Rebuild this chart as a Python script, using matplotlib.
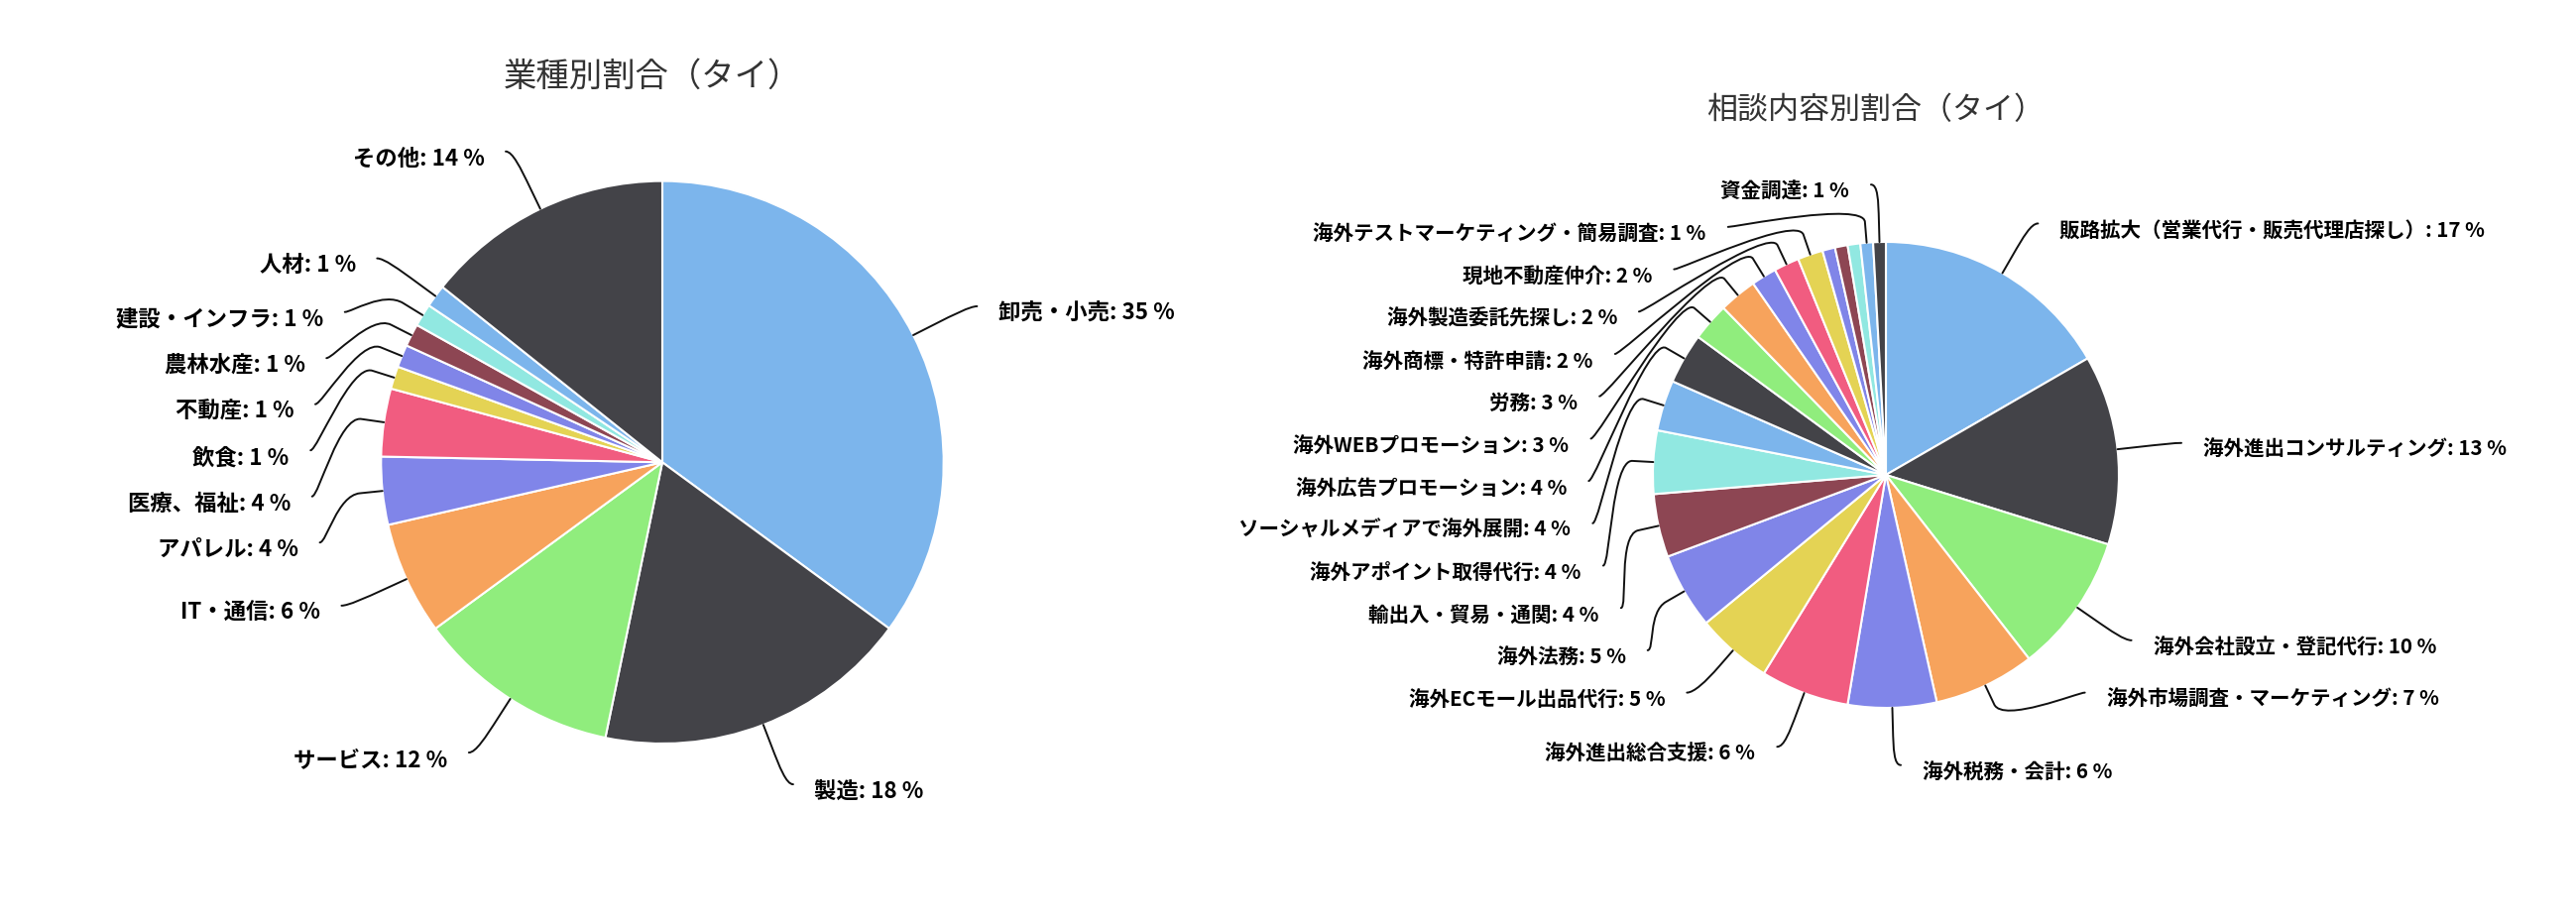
import matplotlib

matplotlib.use("Agg")  # no display in the sandbox
import matplotlib.pyplot as plt
from matplotlib.path import Path
from matplotlib.patches import PathPatch
import numpy as np

plt.rcParams["font.family"] = ["Noto Sans CJK JP", "DejaVu Sans"]

# default Highcharts colours, cycled over the slices
PALETTE = ["#7cb5ec", "#434348", "#90ed7d", "#f7a35c", "#8085e9",
           "#f15c80", "#e4d354", "#8085e8", "#8d4653", "#91e8e1"]

# left chart: share by industry (counts)
industry_title = "業種別割合（タイ）"
industry_names = ["卸売・小売", "製造", "サービス", "IT・通信", "アパレル", "医療、福祉",
                  "飲食", "不動産", "農林水産", "建設・インフラ", "人材", "その他"]
industry_counts = [27, 14, 9, 5, 3, 3, 1, 1, 1, 1, 1, 11]

# right chart: share by consultation topic (counts)
# three tiny slices have no visible label in the original
consult_title = "相談内容別割合（タイ）"
consult_names = ["販路拡大（営業代行・販売代理店探し）", "海外進出コンサルティング",
                 "海外会社設立・登記代行", "海外市場調査・マーケティング", "海外税務・会計",
                 "海外進出総合支援", "海外ECモール出品代行", "海外法務", "輸出入・貿易・通関",
                 "海外アポイント取得代行", "ソーシャルメディアで海外展開", "海外広告プロモーション",
                 "海外WEBプロモーション", "労務", "海外商標・特許申請", "海外製造委託先探し",
                 "現地不動産仲介", "", "", "", "海外テストマーケティング・簡易調査", "資金調達"]
consult_counts = [19, 15, 11, 8, 7, 7, 6, 6, 5, 5, 4, 4, 3, 3, 2, 2, 2, 1, 1, 1, 1, 1]

W, H = 2598, 932

# layout in output pixels (y grows downwards)
left_layout = dict(center=(668, 466.3), radius=283.7, distance=64.3, slot=46.5,
                   plot_top=128.7, plot_bottom=900, knee=23, line_gap=7, text_gap=28.5,
                   text_dy=7.5, font=16.1, title_xy=(658, 77), title_size=24)
right_layout = dict(center=(1902, 479), radius=235, distance=57.8, slot=42.7,
                    plot_top=150, plot_bottom=900, knee=21, line_gap=7, text_gap=29,
                    text_dy=7, font=14.8, title_xy=(1892, 112), title_size=22.3)


def place_half(points, left, lay):
    """Slot based label anti-collision, one side of the pie."""
    cx, cy = lay["center"]
    R = lay["radius"] + lay["distance"]
    top = max(lay["plot_top"], cy - R)
    bottom = min(lay["plot_bottom"], cy + R)
    slots = []
    pos = top
    while pos <= bottom:
        slots.append(pos)
        pos += lay["slot"]
    ns = len(slots)

    # top of the pie first
    points = sorted(points, key=lambda p: -p["angle"] if left else p["angle"])
    if len(points) > ns:
        ranked = sorted(points, key=lambda p: -p["value"])
        keep = {id(p) for p in ranked[:ns]}
        points = [p for p in points if id(p) in keep]
    n = len(points)

    free = list(slots)
    used = []
    for j, p in enumerate(points):
        k = min((abs(s - p["ny"]), i) for i, s in enumerate(free) if s is not None)[1]
        if k < j and free[j] is not None:
            k = j
        elif ns < n - j + k and free[j] is not None:
            k = ns - n + j
            while free[k] is None:
                k += 1
        else:
            while free[k] is None:
                k += 1
        used.append((k, free[k]))
        free[k] = None
    used.sort(key=lambda t: t[1])

    placed = []
    for p, (k, y) in zip(points, used):
        ny = p["ny"]
        below_free = k + 1 >= ns or free[k + 1] is not None
        above_free = k - 1 < 0 or free[k - 1] is not None
        if (ny > y and below_free) or (ny < y and above_free):
            y = ny
        yy = ny if abs(y - (cy - R)) < 1e-6 or abs(y - (cy + R)) < 1e-6 else y
        s = np.clip((yy - cy) / R, -1, 1)
        x = cx + (-1 if left else 1) * np.cos(np.arcsin(s)) * R
        placed.append((p, x, y))
    return placed


def draw_pie(ax, title, names, counts, lay):
    cx, cy = lay["center"]
    r = lay["radius"]
    R = r + lay["distance"]
    colors = [PALETTE[i % len(PALETTE)] for i in range(len(counts))]
    wedges, _ = ax.pie(counts, colors=colors, startangle=-90, counterclock=True,
                       center=(cx, cy), radius=r,
                       wedgeprops=dict(edgecolor="white", linewidth=1.5))
    total = float(sum(counts))

    points = []
    for w, name, c in zip(wedges, names, counts):
        mid = (w.theta1 + w.theta2) / 2
        a = np.deg2rad(mid)
        points.append(dict(name=name, value=c, pct=100 * c / total, angle=mid,
                           ca=np.cos(a), sa=np.sin(a), ny=cy + R * np.sin(a)))

    for left in (True, False):
        half = [p for p in points if (p["angle"] > 90) == left]
        for p, x, y in place_half(half, left, lay):
            if not p["name"]:
                continue
            sign = -1 if left else 1
            kx = cx + (r + lay["knee"]) * p["ca"]
            ky = cy + (r + lay["knee"]) * p["sa"]
            ex = cx + r * p["ca"]
            ey = cy + r * p["sa"]
            verts = [(x + sign * lay["line_gap"], y), (x, y),
                     (2 * kx - ex, 2 * ky - ey), (kx, ky), (ex, ey)]
            codes = [Path.MOVETO, Path.CURVE4, Path.CURVE4, Path.CURVE4, Path.LINETO]
            ax.add_patch(PathPatch(Path(verts, codes), fill=False, edgecolor="#111111",
                                   linewidth=1.4, capstyle="round", zorder=3))
            ax.text(x + sign * lay["text_gap"], y + lay["text_dy"],
                    f"{p['name']}: {p['pct']:.0f} %",
                    ha="right" if left else "left", va="center",
                    fontsize=lay["font"], fontweight="bold", color="#000000")

    tx, ty = lay["title_xy"]
    ax.text(tx, ty, title, ha="center", va="center",
            fontsize=lay["title_size"], color="#333333")


fig = plt.figure(figsize=(W / 100, H / 100), dpi=100, facecolor="white")
ax = fig.add_axes([0, 0, 1, 1])

draw_pie(ax, industry_title, industry_names, industry_counts, left_layout)
draw_pie(ax, consult_title, consult_names, consult_counts, right_layout)

ax.set_xlim(0, W)
ax.set_ylim(H, 0)
ax.set_aspect("equal")
ax.axis("off")

fig.savefig("out.png", dpi=100, facecolor="white")
plt.close(fig)
